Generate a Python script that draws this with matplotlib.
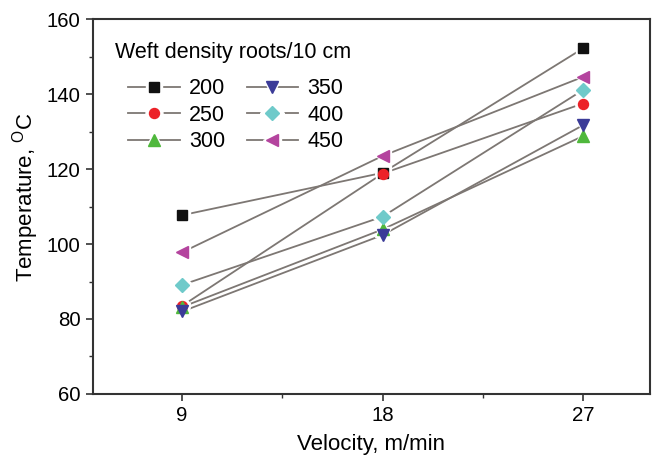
import matplotlib
matplotlib.use("Agg")
import matplotlib.pyplot as plt
from matplotlib.lines import Line2D
from matplotlib.ticker import MultipleLocator, FixedLocator

plt.rcParams['font.family'] = ['Liberation Sans', 'DejaVu Sans']

velocity = [9, 18, 27]
densities = ['200', '250', '300', '350', '400', '450']
t200 = [107.7, 119.0, 152.2]
t250 = [83.5, 118.8, 137.5]
t300 = [83.2, 103.9, 128.8]
t350 = [82.0, 102.4, 131.7]
t400 = [89.1, 107.3, 141.1]
t450 = [97.8, 123.5, 144.6]
series = [t200, t250, t300, t350, t400, t450]

colors = ['#111111', '#ec2228', '#4fb83c', '#3b3b98', '#6fcaca', '#b4449e']
markers = ['s', 'o', '^', 'v', 'D', '<']
msizes = [6.8, 7.2, 8.2, 8.2, 6.8, 8.2]
line_color = '#7d7773'

fig = plt.figure(figsize=(6.55, 4.57), dpi=100)
ax = fig.add_axes([0.142, 0.138, 0.850, 0.820])

for ys in series:
    ax.plot(velocity, ys, color=line_color, lw=1.3, zorder=2)
# white halos produce the small gaps between lines and markers
for ys, m, s in zip(series, markers, msizes):
    ax.plot(velocity, ys, linestyle='none', marker=m, ms=s + 4, color='white',
            markeredgecolor='white', zorder=2.5)
for ys, c, m, s in zip(series, colors, markers, msizes):
    ax.plot(velocity, ys, linestyle='none', marker=m, ms=s, color=c,
            markeredgecolor=c, zorder=3)

ax.set_xlim(5, 30)
ax.set_ylim(60, 160)
ax.xaxis.set_major_locator(FixedLocator([9, 18, 27]))
ax.xaxis.set_minor_locator(FixedLocator([13.5, 22.5]))
ax.yaxis.set_major_locator(MultipleLocator(20))
ax.yaxis.set_minor_locator(MultipleLocator(10))
ax.tick_params(which='major', direction='out', length=5, width=1.2,
               labelsize=14.7, color='#333333', pad=4)
ax.tick_params(which='minor', direction='out', length=3, width=1.0, color='#333333')
for sp in ax.spines.values():
    sp.set_linewidth(1.5)
    sp.set_color('#333333')

ax.set_xlabel('Velocity, m/min', fontsize=16, labelpad=6)
ax.set_ylabel('Temperature, $\\mathregular{^{O}}$C', fontsize=16)
ax.yaxis.set_label_coords(-0.093, 0.524)

handles = []
for c, m, s in zip(colors, markers, msizes):
    ln = Line2D([0], [0], color=line_color, lw=1.3)
    halo = Line2D([0], [0], linestyle='none', marker=m, ms=s + 5,
                  color='white', markeredgecolor='white')
    mk = Line2D([0], [0], linestyle='none', marker=m, ms=s,
                color=c, markeredgecolor=c)
    handles.append((ln, halo, mk))

ax.text(0.0395, 0.912, 'Weft density roots/10 cm', transform=ax.transAxes,
        fontsize=15.5, ha='left', va='center')
leg = ax.legend(handles, densities,
                loc='upper left', bbox_to_anchor=(0.063, 0.842), ncol=2,
                frameon=False, fontsize=15.5,
                handlelength=2.4, handletextpad=0.42, columnspacing=1.0,
                labelspacing=0.25, borderpad=0.0, borderaxespad=0.0)

fig.savefig('out.png', dpi=100)
